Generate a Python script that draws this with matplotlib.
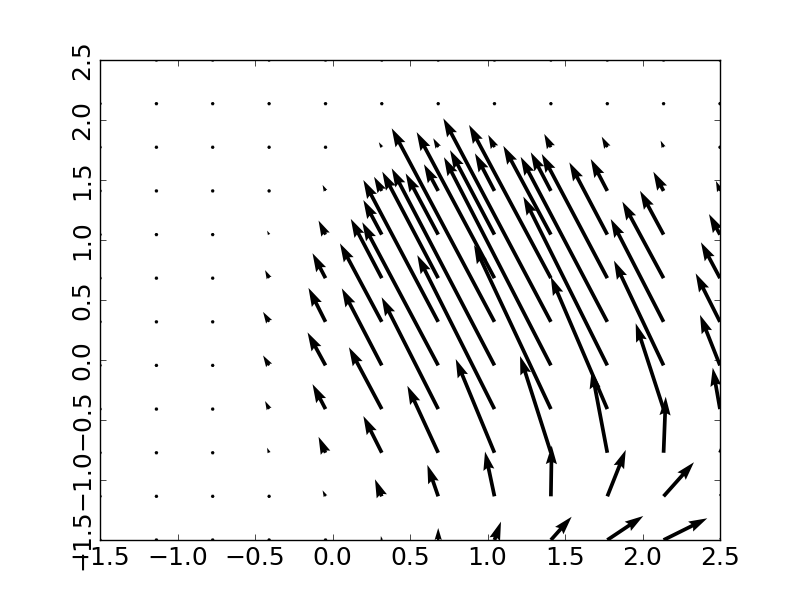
import numpy as np
import matplotlib
matplotlib.use('Agg')
import matplotlib.pyplot as plt

plt.style.use('classic')

# grid positions (12 x 12)
x_grid = [-1.5, -1.136, -0.773, -0.409, -0.045, 0.318, 0.682, 1.045, 1.409, 1.773, 2.136, 2.5]
y_grid = [-1.5, -1.136, -0.773, -0.409, -0.045, 0.318, 0.682, 1.045, 1.409, 1.773, 2.136, 2.5]

# u component, one row per y value (bottom row first)
U = [
    [0, 0, 0, 0, 0, -0.006, 0.0, 0.042, 0.134, 0.232, 0.282, 0.31],
    [0, 0, 0, 0, -0.019, -0.044, -0.070, -0.061, 0.005, 0.119, 0.196, 0.26],
    [0, 0, 0, -0.013, -0.045, -0.119, -0.199, -0.250, -0.199, -0.101, 0.014, 0.13],
    [0, 0, 0, -0.026, -0.084, -0.212, -0.365, -0.498, -0.496, -0.365, -0.180, -0.047],
    [0, 0, 0, -0.039, -0.116, -0.258, -0.490, -0.663, -0.690, -0.542, -0.320, -0.129],
    [0, 0, 0, -0.039, -0.110, -0.270, -0.483, -0.663, -0.694, -0.559, -0.341, -0.157],
    [0, 0, 0, -0.026, -0.084, -0.200, -0.361, -0.502, -0.528, -0.423, -0.266, -0.123],
    [0, 0, 0, -0.013, -0.045, -0.119, -0.210, -0.287, -0.307, -0.245, -0.152, -0.071],
    [0, 0, 0, 0, -0.019, -0.050, -0.092, -0.126, -0.130, -0.107, -0.066, -0.026],
    [0, 0, 0, 0, 0, -0.019, -0.032, -0.040, -0.043, -0.036, -0.019, -0.010],
    [0, 0, 0, 0, 0, 0, 0, -0.006, -0.010, 0, 0, 0],
    [0, 0, 0, 0, 0, 0, 0, 0, 0, 0, 0, 0],
]

# v component
V = [
    [0, 0, 0, 0, 0, 0.033, 0.100, 0.153, 0.194, 0.200, 0.181, 0.15],
    [0, 0, 0, 0, 0.050, 0.142, 0.262, 0.373, 0.423, 0.387, 0.284, 0.23],
    [0, 0, 0, 0.042, 0.133, 0.306, 0.558, 0.781, 0.806, 0.689, 0.467, 0.375],
    [0, 0, 0, 0.067, 0.208, 0.515, 0.932, 1.283, 1.367, 1.103, 0.715, 0.345],
    [0, 0, 0, 0.083, 0.275, 0.642, 1.193, 1.642, 1.735, 1.407, 0.873, 0.421],
    [0, 0, 0, 0.083, 0.283, 0.654, 1.182, 1.613, 1.696, 1.375, 0.857, 0.404],
    [0, 0, 0, 0.067, 0.208, 0.494, 0.888, 1.217, 1.277, 1.035, 0.638, 0.299],
    [0, 0, 0, 0.033, 0.117, 0.288, 0.510, 0.704, 0.740, 0.602, 0.365, 0.171],
    [0, 0, 0, 0, 0.050, 0.118, 0.222, 0.313, 0.322, 0.266, 0.160, 0.083],
    [0, 0, 0, 0, 0, 0.042, 0.075, 0.103, 0.111, 0.088, 0.055, 0.025],
    [0, 0, 0, 0, 0, 0, 0, 0.017, 0.025, 0, 0, 0],
    [0, 0, 0, 0, 0, 0, 0, 0, 0, 0, 0, 0],
]

fig = plt.figure(figsize=(8, 6), dpi=100)
ax = fig.add_subplot(111)

X, Y = np.meshgrid(x_grid, y_grid)
ax.quiver(X, Y, np.array(U), np.array(V), angles='xy', scale_units='xy', scale=1,
          width=0.006)

ax.set_xlim(-1.5, 2.5)
ax.set_ylim(-1.5, 2.5)
ax.tick_params(labelsize=18)
ax.tick_params(axis='y', labelrotation=90)

fig.savefig('out.png', dpi=100)
